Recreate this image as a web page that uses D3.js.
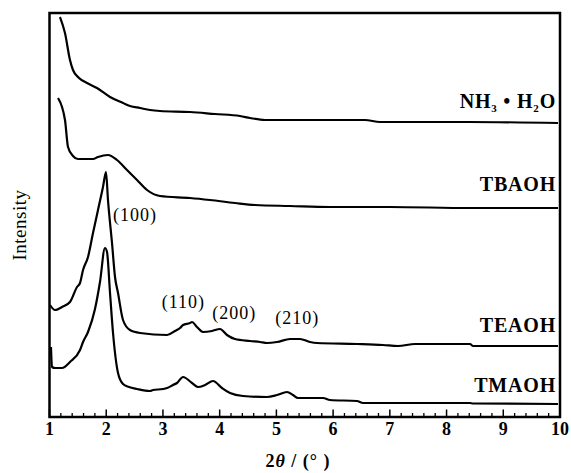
<!DOCTYPE html>
<html>
<head>
<meta charset="utf-8">
<script src="https://cdn.jsdelivr.net/npm/d3@7"></script>
<style>
  html, body { margin: 0; padding: 0; background: #fff; }
  svg { display: block; }
  text { font-family: "Liberation Serif", "DejaVu Serif", serif; fill: #000; }
</style>
</head>
<body>
<svg id="chart" width="571" height="473"></svg>
<script>
// ---- data (2θ in degrees, intensity in arbitrary units, curves offset vertically) ----
const xTickLabels = [1, 2, 3, 4, 5, 6, 7, 8, 9, 10];
const seriesNames = ["NH₃·H₂O", "TBAOH", "TEAOH", "TMAOH"];

const nh3 = [[1.185,400],[1.273,384],[1.361,357],[1.414,347],[1.52,339],[1.661,334],[1.837,329],[2.067,320],[2.296,314],[2.419,311],[2.596,309],[2.772,307],[2.948,306],[3.477,305],[3.918,303],[4.359,301],[4.535,299],[4.799,297],[6.562,297],[6.826,295],[8.4,295],[9.965,294]];

const tbaoh = [[1.150,319],[1.273,297],[1.326,270],[1.414,261],[1.502,258],[1.767,258],[1.855,260],[2.031,262],[2.190,257],[2.366,247],[2.543,237],[2.719,227],[2.948,221],[3.477,219],[3.830,217],[4.270,214],[4.623,212],[5.240,211],[5.945,210],[7.0,210],[8.4,209],[9.965,209]];

const teaoh = [[1.009,112],[1.097,107],[1.22,110],[1.361,115],[1.485,130],[1.538,134],[1.591,147],[1.679,160],[1.767,184],[1.855,207],[1.943,230],[1.996,245],[2.031,217],[2.102,174],[2.155,140],[2.208,124],[2.296,97],[2.419,87],[2.596,84],[3.072,82],[3.213,86],[3.301,89],[3.354,92],[3.477,94],[3.512,95],[3.600,90],[3.706,85],[3.865,86],[4.006,88],[4.129,82],[4.270,78],[4.535,76],[4.711,75],[4.835,74],[5.011,75],[5.240,78],[5.416,78],[5.593,75],[5.716,74],[6.421,73],[6.880,72],[7.144,71],[7.444,73],[8.414,73],[8.466,71],[9.965,71]];

const tmaoh = [[1.026,70],[1.044,50],[1.097,49],[1.220,49],[1.361,55],[1.538,67],[1.591,75],[1.679,85],[1.802,108],[1.890,135],[1.978,169],[2.014,165],[2.067,124],[2.120,84],[2.208,44],[2.296,33],[2.400,30],[2.543,28],[2.772,26],[2.825,27],[3.001,28],[3.072,29],[3.177,32],[3.248,34],[3.354,40],[3.512,34],[3.618,30],[3.742,32],[3.883,36],[4.041,29],[4.182,24],[4.411,21],[4.835,20],[5.011,22],[5.187,25],[5.293,22],[5.381,19],[5.822,19],[5.945,17],[6.421,16],[6.527,14],[8.414,14],[8.466,13.5],[9.965,13]];

const peakLabels = ["(100)", "(110)", "(200)", "(210)"];

// ---- layout ----
const svg = d3.select("#chart");
const x = d3.scaleLinear().domain([1, 10]).range([49.5, 560]);
const y = d3.scaleLinear().domain([0, 404]).range([417, 13]);

const line = d3.line().x(d => x(d[0])).y(d => y(d[1])).curve(d3.curveMonotoneX);

// curves
[nh3, tbaoh, teaoh, tmaoh].forEach(s => {
  svg.append("path").attr("d", line(s))
    .attr("fill", "none").attr("stroke", "#000")
    .attr("stroke-width", 2.2).attr("stroke-linejoin", "round");
});

// frame
svg.append("rect")
  .attr("x", x(1)).attr("y", y(404))
  .attr("width", x(10) - x(1)).attr("height", y(0) - y(404))
  .attr("fill", "none").attr("stroke", "#000").attr("stroke-width", 2.5);

// bottom axis: inward ticks
const axisG = svg.append("g").attr("transform", `translate(0,${y(0)})`);
const minorVals = d3.range(1, 10.0001, 0.2).filter(v => Math.abs(v - Math.round(v)) > 1e-6);
axisG.selectAll("line.minor").data(minorVals).enter().append("line")
  .attr("x1", d => x(d)).attr("x2", d => x(d)).attr("y1", 0).attr("y2", -4)
  .attr("stroke", "#000").attr("stroke-width", 1.3);
axisG.selectAll("line.major").data(xTickLabels).enter().append("line")
  .attr("x1", d => x(d)).attr("x2", d => x(d)).attr("y1", 0).attr("y2", -7.5)
  .attr("stroke", "#000").attr("stroke-width", 1.5);
axisG.selectAll("text.tick").data(xTickLabels).enter().append("text")
  .attr("x", d => x(d)).attr("y", 18)
  .attr("text-anchor", "middle")
  .attr("font-size", 18).attr("font-weight", "bold")
  .text(d => d);

// axis titles
const xt = svg.append("text").attr("x", 298).attr("y", 467)
  .attr("text-anchor", "middle").attr("font-size", 18).attr("font-weight", "bold")
  .attr("letter-spacing", 1);
xt.append("tspan").text("2");
xt.append("tspan").attr("font-style", "italic").text("θ");
xt.append("tspan").text(" / (° )");

svg.append("text")
  .attr("transform", `translate(26,225) rotate(-90)`)
  .attr("text-anchor", "middle").attr("font-size", 19).attr("letter-spacing", 0.5)
  .text("Intensity");

// series labels (right aligned)
const lab = (yy) => svg.append("text").attr("x", 556).attr("y", yy)
  .attr("text-anchor", "end").attr("font-size", 20).attr("font-weight", "bold")
  .attr("letter-spacing", 0.8);

const n = lab(108);
n.append("tspan").text("NH");
n.append("tspan").attr("font-size", 11).attr("dy", 4).text("3");
n.append("tspan").attr("dy", -4).text(" • H");
n.append("tspan").attr("font-size", 11).attr("dy", 4).text("2");
n.append("tspan").attr("dy", -4).text("O");

lab(191).text(seriesNames[1]);
lab(332).text(seriesNames[2]);
lab(392).text(seriesNames[3]);

// peak annotations
const peakPos = [[2.12, 196], [2.98, 109], [3.87, 98], [4.98, 93]];
peakLabels.forEach((t, i) => {
  svg.append("text")
    .attr("x", x(peakPos[i][0])).attr("y", y(peakPos[i][1]))
    .attr("font-size", 18).attr("letter-spacing", 1)
    .text(t);
});
</script>
</body>
</html>
